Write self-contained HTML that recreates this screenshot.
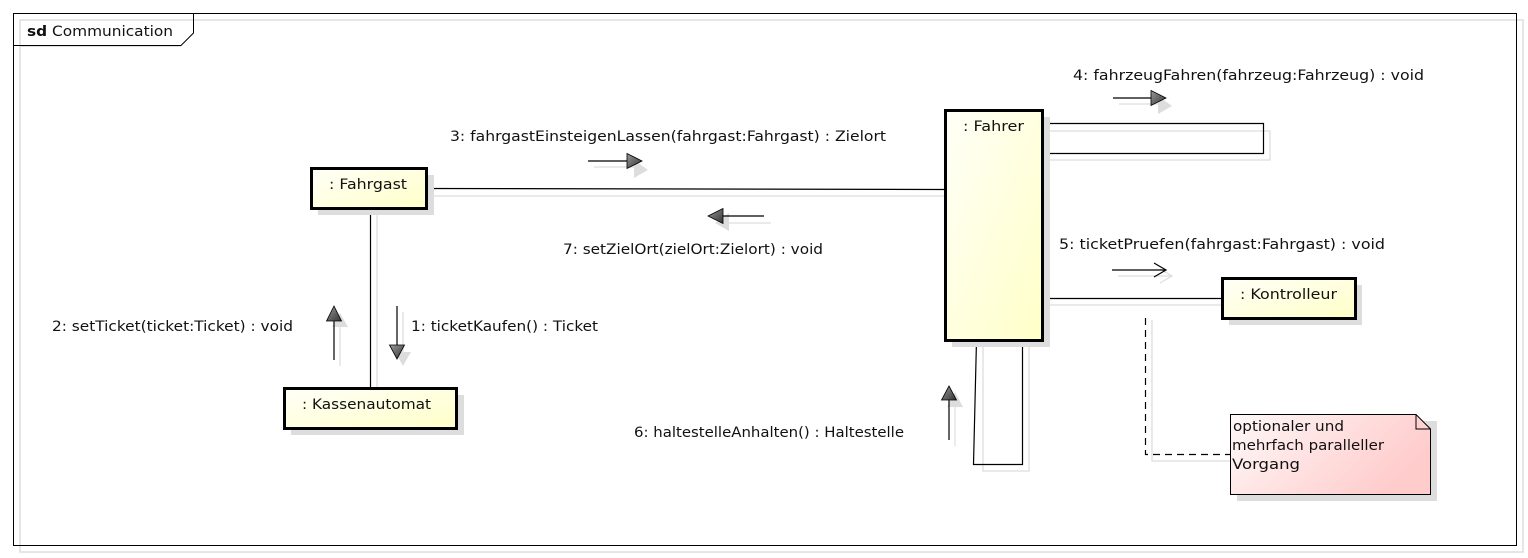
<!DOCTYPE html>
<html><head><meta charset="utf-8"><style>
html,body{margin:0;padding:0;background:#fff;width:1528px;height:558px;overflow:hidden}
text{font-family:"DejaVu Sans","Liberation Sans",sans-serif;font-size:14px;fill:#111}
</style></head><body>
<svg width="1528" height="558" viewBox="0 0 1528 558" xmlns="http://www.w3.org/2000/svg">
<defs>
<linearGradient id="y" x1="0" y1="0" x2="1" y2="1"><stop offset="0" stop-color="#fffff8"/><stop offset="1" stop-color="#ffffc8"/></linearGradient>
<linearGradient id="p" x1="0" y1="0" x2="1" y2="0.4"><stop offset="0" stop-color="#fff8f8"/><stop offset="1" stop-color="#ffcccc"/></linearGradient>
<linearGradient id="g" x1="0" y1="0" x2="1" y2="1"><stop offset="0" stop-color="#999"/><stop offset="1" stop-color="#333"/></linearGradient>
</defs>
<rect x="20" y="20" width="1503" height="532" fill="none" stroke="#ddd" stroke-width="1.5"/>
<rect x="13.5" y="13.5" width="1503" height="532" fill="none" stroke="#000" stroke-width="1"/>
<path d="M13.5 45.5 H181 L193.5 33 V13.5" fill="none" stroke="#000"/>
<line x1="20" y1="46.5" x2="181" y2="46.5" stroke="#ddd"/>
<text x="27" y="36" font-size="15" textLength="146" lengthAdjust="spacingAndGlyphs"><tspan font-weight="bold">sd</tspan> Communication</text>

<g stroke="#ddd" fill="none" stroke-width="1.3">
<line x1="427" y1="196" x2="953" y2="196"/>
<line x1="377" y1="208" x2="377" y2="388"/>
<path d="M1043 131 H1270 V160 H1043"/>
<line x1="1043" y1="305" x2="1228" y2="305"/>
<path d="M983 340 V471 H1029 V340"/>
<path d="M1152 320 V461 H1230"/>
</g>
<g stroke="#000" fill="none" stroke-width="1.2">
<line x1="427" y1="188.5" x2="945" y2="189.5"/>
<line x1="370.5" y1="208" x2="370.5" y2="388"/>
<path d="M1043 123.5 H1263.5 V153.5 H1043"/>
<line x1="1043" y1="298.5" x2="1222" y2="298.5"/>
<path d="M976.5 340 L973.5 464.5 H1022.5 V340"/>
<path d="M1145.5 318 V454.5 H1230" stroke-dasharray="7,5"/>
</g>

<g>
<rect x="318" y="175" width="116" height="40" fill="#ddd"/>
<rect x="311.5" y="168.5" width="115" height="40" fill="url(#y)" stroke="#000" stroke-width="3"/>
<text x="329" y="189" font-size="15" textLength="78" lengthAdjust="spacingAndGlyphs">: Fahrgast</text>

<rect x="291" y="395" width="173" height="40" fill="#ddd"/>
<rect x="284.5" y="388.5" width="172" height="40" fill="url(#y)" stroke="#000" stroke-width="3"/>
<text x="302" y="409" font-size="15" textLength="129" lengthAdjust="spacingAndGlyphs">: Kassenautomat</text>

<rect x="952" y="117" width="98" height="230" fill="#ddd"/>
<rect x="945.5" y="110.5" width="97" height="230" fill="url(#y)" stroke="#000" stroke-width="3"/>
<text x="963" y="131" font-size="15" textLength="61" lengthAdjust="spacingAndGlyphs">: Fahrer</text>

<rect x="1229" y="285" width="133" height="40" fill="#ddd"/>
<rect x="1222.5" y="278.5" width="133" height="40" fill="url(#y)" stroke="#000" stroke-width="3"/>
<text x="1240" y="299" font-size="15" textLength="97" lengthAdjust="spacingAndGlyphs">: Kontrolleur</text>

<path d="M1237 421 H1437 V501 H1237Z" fill="#ddd"/>
<path d="M1230.5 414.5 H1416 L1430.5 429 V494.5 H1230.5Z" fill="url(#p)" stroke="#000"/>
<path d="M1416 414.5 V429 H1430.5" fill="none" stroke="#000"/>
<text x="1233" y="431" font-size="15" textLength="111" lengthAdjust="spacingAndGlyphs">optionaler und</text>
<text x="1232" y="450" font-size="15" textLength="152" lengthAdjust="spacingAndGlyphs">mehrfach paralleller</text>
<text x="1232" y="469" font-size="15" textLength="68" lengthAdjust="spacingAndGlyphs">Vorgang</text>
</g>

<g stroke-width="1.2">
<line x1="594" y1="167" x2="634" y2="167" stroke="#ddd"/><path d="M634 160 L648 170 L634 178Z" fill="#ddd"/>
<line x1="588" y1="161" x2="628" y2="161" stroke="#000"/><path d="M627 153.5 L642 161 L627 168.5Z" fill="url(#g)" stroke="#000" stroke-width="0.8"/>
<line x1="722" y1="223" x2="771" y2="223" stroke="#ddd"/><path d="M715 223 L729 213 L729 231Z" fill="#ddd"/>
<line x1="723" y1="216" x2="764" y2="216" stroke="#000"/><path d="M723 208.5 L708 216 L723 223.5Z" fill="url(#g)" stroke="#000" stroke-width="0.8"/>
<line x1="1119" y1="104" x2="1158" y2="104" stroke="#ddd"/><path d="M1158 96 L1172 106 L1158 114Z" fill="#ddd"/>
<line x1="1113" y1="98" x2="1152" y2="98" stroke="#000"/><path d="M1151 90.5 L1166 98 L1151 105.5Z" fill="url(#g)" stroke="#000" stroke-width="0.8"/>
<path d="M1118 276 H1172 M1160 269 L1172 276 L1160 283" fill="none" stroke="#ddd"/>
<path d="M1112 270 H1166 M1154 263 L1166 270 L1154 277" fill="none" stroke="#000"/>
<line x1="340" y1="315" x2="340" y2="366" stroke="#ddd"/><path d="M340 313 L348 327 L332 327Z" fill="#ddd"/>
<line x1="334" y1="321" x2="334" y2="360" stroke="#000"/><path d="M334 306 L341.5 321 L326.5 321Z" fill="url(#g)" stroke="#000" stroke-width="0.8"/>
<line x1="403" y1="312" x2="403" y2="352" stroke="#ddd"/><path d="M403 366 L411 352 L395 352Z" fill="#ddd"/>
<line x1="397" y1="306" x2="397" y2="345" stroke="#000"/><path d="M397 359 L404.5 345 L389.5 345Z" fill="url(#g)" stroke="#000" stroke-width="0.8"/>
<line x1="955" y1="400" x2="955" y2="446" stroke="#ddd"/><path d="M955 392 L963 407 L947 407Z" fill="#ddd"/>
<line x1="949" y1="400" x2="949" y2="440" stroke="#000"/><path d="M949 386 L956.5 400 L941.5 400Z" fill="url(#g)" stroke="#000" stroke-width="0.8"/>
</g>

<text x="450" y="141" textLength="436" lengthAdjust="spacingAndGlyphs">3: fahrgastEinsteigenLassen(fahrgast:Fahrgast) : Zielort</text>
<text x="563" y="254" textLength="260" lengthAdjust="spacingAndGlyphs">7: setZielOrt(zielOrt:Zielort) : void</text>
<text x="1073" y="80" textLength="351" lengthAdjust="spacingAndGlyphs">4: fahrzeugFahren(fahrzeug:Fahrzeug) : void</text>
<text x="1059" y="249" textLength="326" lengthAdjust="spacingAndGlyphs">5: ticketPruefen(fahrgast:Fahrgast) : void</text>
<text x="52" y="331" textLength="241" lengthAdjust="spacingAndGlyphs">2: setTicket(ticket:Ticket) : void</text>
<text x="411" y="331" textLength="187" lengthAdjust="spacingAndGlyphs">1: ticketKaufen() : Ticket</text>
<text x="634" y="437" textLength="270" lengthAdjust="spacingAndGlyphs">6: haltestelleAnhalten() : Haltestelle</text>
</svg>
</body></html>
